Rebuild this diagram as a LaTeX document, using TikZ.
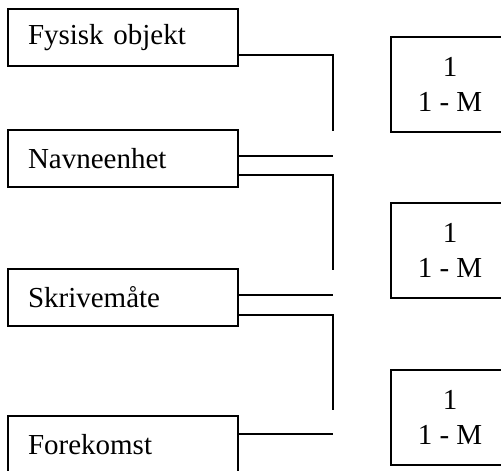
\documentclass[tikz,border=0pt]{standalone}
\usepackage{fontspec}
\setmainfont{Liberation Serif}
\begin{document}
\begin{tikzpicture}[x=0.5pt,y=-0.5pt,line width=1pt,
	entity/.style={draw,anchor=north west,minimum height=28.5pt,text width=95pt,inner xsep=10pt,align=left,font=\fontsize{14.5}{17.5}\selectfont},
	card/.style={draw,anchor=north west,minimum width=59pt,minimum height=47.5pt,align=center,font=\fontsize{14.5}{17.5}\selectfont}]
	\useasboundingbox (0,0) rectangle (501,470);

	\node (fysisk) [entity] at (7,8) {Fysisk objekt};
	\node (navn) [entity] at (7,129) {Navneenhet};
	\node (skrive) [entity] at (7,268) {Skrivemåte};
	\node (forekomst) [entity] at (7,415) {Forekomst};

	\node (cardA) [card] at (390,36) {1\\1 - M};
	\node (cardB) [card] at (390,202) {1\\1 - M};
	\node (cardC) [card] at (390,369) {1\\1 - M};

	\coordinate (f1) at (333,131);
	\coordinate (n1) at (333,156);
	\coordinate (n2) at (333,270);
	\coordinate (s1) at (333,295);
	\coordinate (s2) at (333,410);
	\coordinate (k1) at (333,434);

	\draw (fysisk.east |- 0,55) -| (f1);
	\draw (navn.east |- n1) -- (n1);
	\draw (navn.east |- 0,175) -| (n2);
	\draw (skrive.east |- s1) -- (s1);
	\draw (skrive.east |- 0,315) -| (s2);
	\draw (forekomst.east |- k1) -- (k1);
\end{tikzpicture}
\end{document}
